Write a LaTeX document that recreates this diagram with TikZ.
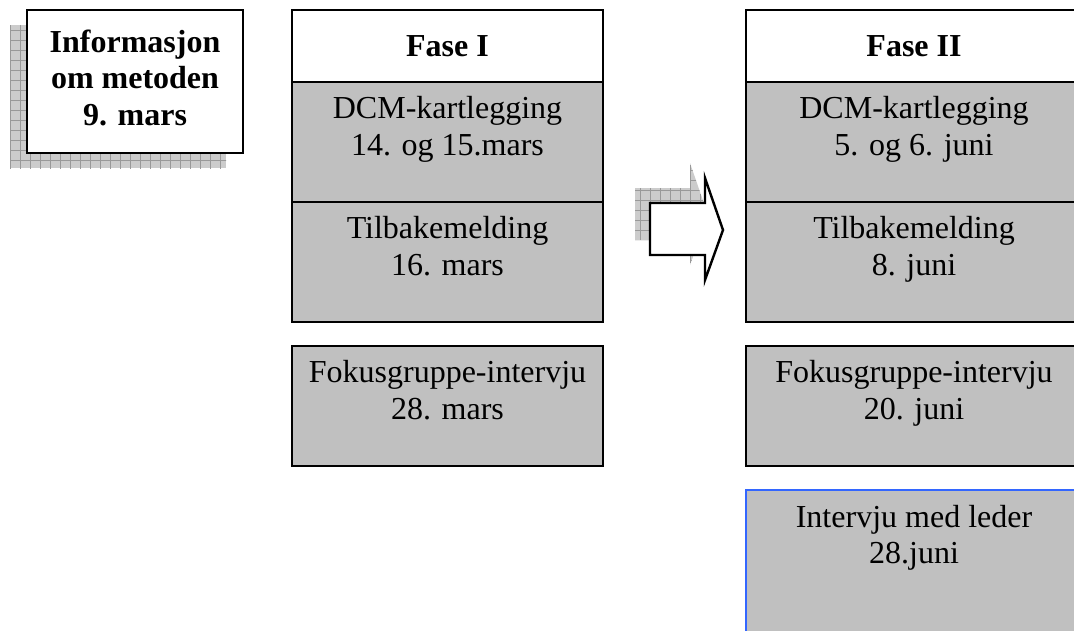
\documentclass[tikz,border=0pt]{standalone}
\usepackage{fontspec}
\setmainfont{Liberation Serif}
\usetikzlibrary{positioning, patterns.meta}

\definecolor{boxgray}{HTML}{C0C0C0}
\definecolor{framblue}{HTML}{3366FF}

\tikzset{
  txt/.style={font=\fontsize{32}{36.8}\selectfont, align=center, inner sep=0pt},
  headbox/.style={draw, line width=2.2pt, fill=white, minimum height=72, minimum width=#1,
    inner sep=0pt, txt, font=\fontsize{32}{36.8}\selectfont\bfseries},
  headbox/.default=311,
  actbox/.style={draw, line width=2.2pt, fill=boxgray, minimum height=120, minimum width=#1, inner sep=0pt},
  actbox/.default=311,
  gridshadow/.style={preaction={fill=black!20}, pattern={Hatch[distance=10pt, angle=0, line width=0.8pt]},
    pattern color=black!40},
}

\begin{document}
\begin{tikzpicture}[x=1pt, y=-1pt]
\path[use as bounding box] (0,0) rectangle (1074,630);
\clip (0,0) rectangle (1074,630);

% information box with shadow
\fill[gridshadow] (10,25) rectangle (226,168);
\node[headbox=216, minimum height=143] (info) at (135,81.5)
  {\strut Informasjon\\\strut om metoden\\\strut 9. mars};

% Fase I
\node[headbox] (fase1) at (447.5,46) {Fase I};
\node[actbox] (kart1) at (447.5,142) {};
\node[actbox] (tilb1) at (447.5,262) {};
\node[actbox] (fokus1) at (447.5,406) {};
\node[txt, below=12pt of kart1.north] (kart1txt) {\strut DCM-kartlegging\\14. og 15.mars};
\node[txt, below=12pt of tilb1.north] (tilb1txt) {\strut Tilbakemelding\\16. mars};
\node[txt, below=12pt of fokus1.north] (fokus1txt) {\strut Fokusgruppe-intervju\\28. mars};

% arrow with shadow
\fill[gridshadow] (635,188) -- (690,188) -- (690,163) -- (708,215) -- (690,265) -- (690,240) -- (635,240) -- cycle;
\draw[line width=2.4pt, fill=white] (650,203) -- (705,203) -- (705,178) -- (723,230) -- (705,280) -- (705,255)
  -- (650,255) -- cycle;

% Fase II
\node[headbox=336] (fase2) at (914,46) {Fase II};
\node[actbox=336] (kart2) at (914,142) {};
\node[actbox=336] (tilb2) at (914,262) {};
\node[actbox=336] (fokus2) at (914,406) {};
\node[actbox=336, minimum height=160, draw=framblue, line width=1.6pt] (leder2) at (914,570) {};
\node[txt, below=12pt of kart2.north] (kart2txt) {\strut DCM-kartlegging\\5. og 6. juni};
\node[txt, below=12pt of tilb2.north] (tilb2txt) {\strut Tilbakemelding\\8. juni};
\node[txt, below=12pt of fokus2.north] (fokus2txt) {\strut Fokusgruppe-intervju\\20. juni};
\node[txt, below=12pt of leder2.north] (leder2txt) {\strut Intervju med leder\\28.juni};
\end{tikzpicture}
\end{document}
